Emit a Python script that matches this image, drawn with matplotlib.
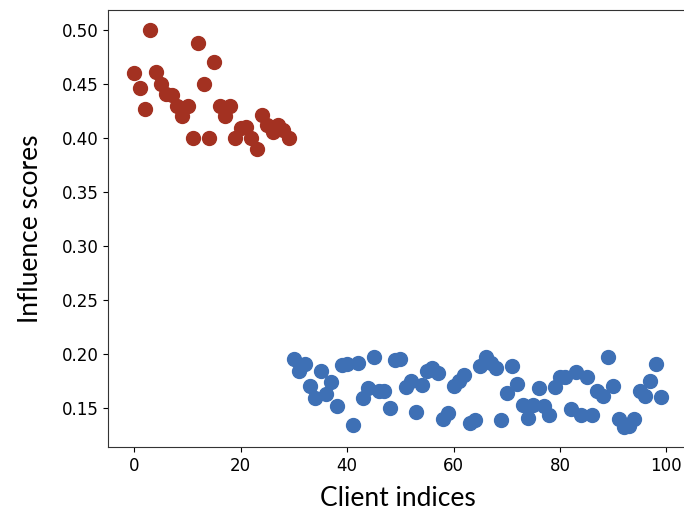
import matplotlib
matplotlib.use("Agg")
import matplotlib.pyplot as plt
import numpy as np

# influence score per client
red_idx = list(range(0, 30))
red_scores = [0.460, 0.446, 0.427, 0.500, 0.461, 0.450, 0.441, 0.440, 0.430, 0.420,
              0.430, 0.400, 0.488, 0.450, 0.400, 0.470, 0.430, 0.420, 0.430, 0.400,
              0.409, 0.410, 0.400, 0.390, 0.421, 0.412, 0.406, 0.412, 0.407, 0.400]

blue_idx = list(range(30, 100))
blue_scores = [0.195, 0.184, 0.191, 0.170, 0.159, 0.184, 0.163, 0.174, 0.152, 0.190,
               0.191, 0.134, 0.192, 0.159, 0.168, 0.197, 0.166, 0.166, 0.150, 0.194,
               0.195, 0.169, 0.175, 0.146, 0.171, 0.184, 0.187, 0.182, 0.140, 0.145,
               0.170, 0.175, 0.180, 0.136, 0.139, 0.189, 0.197, 0.192, 0.187, 0.139,
               0.164, 0.189, 0.172, 0.153, 0.141, 0.153, 0.168, 0.152, 0.143, 0.169,
               0.179, 0.179, 0.149, 0.183, 0.143, 0.179, 0.143, 0.166, 0.161, 0.197,
               0.170, 0.140, 0.132, 0.133, 0.140, 0.166, 0.161, 0.175, 0.191, 0.160]

fig = plt.figure(figsize=(6.84, 5.11), dpi=100)
# the original figure is cropped just before the right spine
ax = fig.add_axes([0.158, 0.125, 0.847, 0.855])

ax.scatter(red_idx, red_scores, s=100, color="#a33121", zorder=3)
ax.scatter(blue_idx, blue_scores, s=100, color="#3e70b5", zorder=3)

ax.set_xticks([0, 20, 40, 60, 80, 100])
ax.set_yticks([0.15, 0.20, 0.25, 0.30, 0.35, 0.40, 0.45, 0.50])
ax.tick_params(labelsize=12)
for sp in ax.spines.values():
    sp.set_color("#333333")
ax.spines["right"].set_visible(False)

ax.set_xlabel("Client indices", fontsize=19, family="Lato", labelpad=8)
ax.set_ylabel("Influence scores", fontsize=19, family="Lato", labelpad=13)

fig.savefig("out.png", dpi=100)
